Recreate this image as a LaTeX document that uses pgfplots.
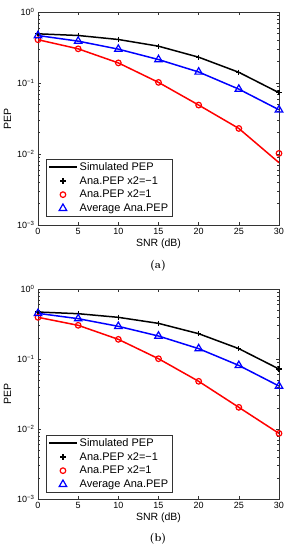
\documentclass[border=0pt]{standalone}
\usepackage{fontspec}
\setsansfont{Liberation Sans}
\usepackage{pgfplots}
\usepackage{pgfplotstable}
\pgfplotsset{compat=1.18}

\pgfplotstableread{
x   blk    blu    redl    redm
0   0.493  0.466  0.407   0.407
5   0.467  0.389  0.303   0.303
10  0.410  0.300  0.192   0.192
15  0.330  0.214  0.102   0.102
20  0.231  0.143  0.0489  0.0489
25  0.1415 0.082  0.0229  0.0229
30  0.073  0.042  0.00755 0.0102
}\dataA
\pgfplotstableread{
x   blk    blu    redl    redm
0   0.469  0.449  0.394   0.394
5   0.444  0.377  0.303   0.303
10  0.394  0.293  0.191   0.191
15  0.323  0.213  0.101   0.101
20  0.230  0.1406 0.048   0.048
25  0.1406 0.081  0.0204  0.0204
30  0.072  0.0411 0.00865 0.00865
}\dataB

\pgfplotsset{
  legend image code/.code={\draw[mark repeat=2,mark phase=2,#1] plot coordinates {(0pt,0pt) (14pt,0pt) (28pt,0pt)};},
  every axis/.append style={
    scale only axis, width=241pt,
    xmin=0, xmax=30, ymin=1e-3, ymax=1,
    xtick={0,5,...,30},
    ytick={1e-3,1e-2,1e-1,1},
    yticklabels={10\textsuperscript{−3},10\textsuperscript{−2},10\textsuperscript{−1},10\textsuperscript{0}},
    tick align=inside,
    major tick length=3pt, minor tick length=1.6pt,
    tick style={black!80, line width=0.4pt},
    axis line style={black!80, line width=0.5pt},
    ticklabel style={font=\sffamily\fontsize{9}{10}\selectfont},
    /pgf/number format/assume math mode=true,
    xlabel={SNR (dB)}, ylabel={PEP},
    label style={font=\sffamily\fontsize{10.5}{12}\selectfont},
    xlabel style={yshift=3pt},
    ylabel style={yshift=-1pt},
    legend style={draw=black!80, line width=0.5pt, fill=white,
      font=\sffamily\fontsize{11}{13}\selectfont,
      cells={anchor=west}, inner xsep=2pt, inner ysep=1pt, row sep=0.5pt},
  },
}

\begin{document}
\begin{tikzpicture}
\useasboundingbox (0pt,0pt) rectangle (290pt,-550pt);
% ---------------- (a)
\begin{semilogyaxis}[height=213pt, at={(38pt,-225pt)}, anchor=south west,
  legend style={at={(0.033,0.042)}, anchor=south west}]
\addplot[line width=1.5pt, black, mark=none] table[x=x,y=blk]{\dataA};
\addlegendentry{Simulated PEP}
\addplot[line width=1.5pt, blue, mark=none, forget plot] table[x=x,y=blu]{\dataA};
\addplot[line width=1.5pt, red, mark=none, forget plot] table[x=x,y=redl]{\dataA};
\addplot[only marks, black, mark=+, mark size=2.6pt, line width=1.2pt] table[x=x,y=blk]{\dataA};
\addlegendentry{Ana.PEP x2=−1}
\addplot[only marks, red, mark=o, mark size=2.8pt, line width=1.2pt] table[x=x,y=redm]{\dataA};
\addlegendentry{Ana.PEP x2=1}
\addplot[only marks, blue, mark=triangle, mark size=4.3pt, line width=1.2pt] table[x=x,y=blu]{\dataA};
\addlegendentry{Average Ana.PEP}
\end{semilogyaxis}
\node[font=\bfseries\fontsize{11}{13}\selectfont] at (158pt,-266pt) {(a)};
% ---------------- (b)
\begin{semilogyaxis}[height=210pt, at={(38pt,-499pt)}, anchor=south west,
  legend style={at={(0.033,0.033)}, anchor=south west}]
\addplot[line width=1.5pt, black, mark=none] table[x=x,y=blk]{\dataB};
\addlegendentry{Simulated PEP}
\addplot[line width=1.5pt, blue, mark=none, forget plot] table[x=x,y=blu]{\dataB};
\addplot[line width=1.5pt, red, mark=none, forget plot] table[x=x,y=redl]{\dataB};
\addplot[only marks, black, mark=+, mark size=2.6pt, line width=1.2pt] table[x=x,y=blk]{\dataB};
\addlegendentry{Ana.PEP x2=−1}
\addplot[only marks, red, mark=o, mark size=2.8pt, line width=1.2pt] table[x=x,y=redm]{\dataB};
\addlegendentry{Ana.PEP x2=1}
\addplot[only marks, blue, mark=triangle, mark size=4.3pt, line width=1.2pt] table[x=x,y=blu]{\dataB};
\addlegendentry{Average Ana.PEP}
\end{semilogyaxis}
\node[font=\bfseries\fontsize{11}{13}\selectfont] at (158pt,-539pt) {(b)};
\end{tikzpicture}
\end{document}
